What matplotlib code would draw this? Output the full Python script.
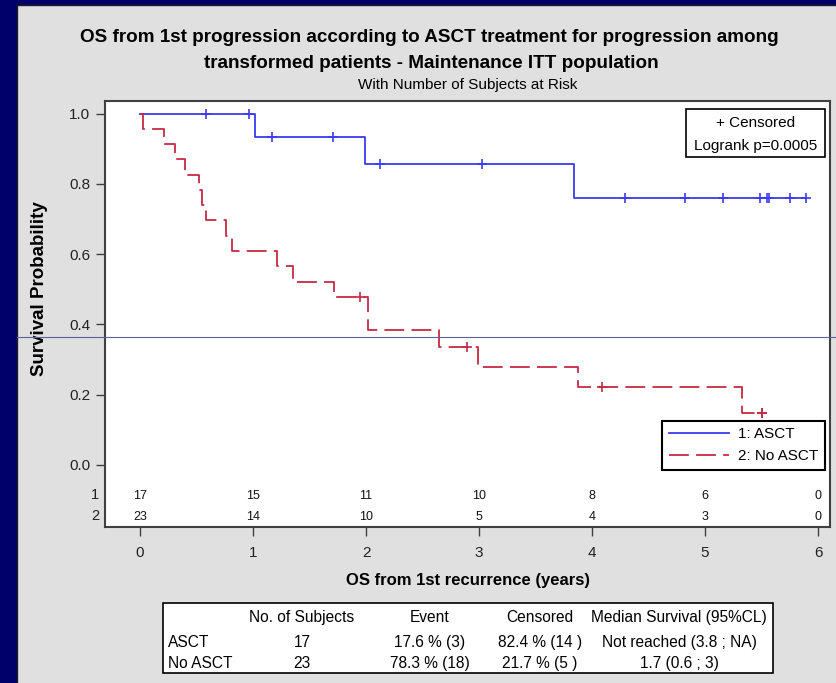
import matplotlib
matplotlib.use("Agg")
import matplotlib.pyplot as plt
import matplotlib.transforms as mtransforms
from matplotlib.patches import Rectangle
from matplotlib.lines import Line2D
import numpy as np

plt.rcParams['font.family'] = ['Liberation Sans', 'DejaVu Sans']

# Kaplan-Meier steps (time in years, survival after the step)
asct_times = [0.0, 1.02, 1.99, 3.84]
asct_surv = [1.0, 0.933, 0.856, 0.761]
asct_cens = [0.58, 0.96, 1.17, 1.71, 2.12, 3.03, 4.29, 4.82, 5.16, 5.49, 5.55, 5.57, 5.75, 5.89]

noasct_times = [0.0, 0.03, 0.21, 0.31, 0.40, 0.52, 0.55, 0.58, 0.76, 0.81,
                1.21, 1.35, 1.72, 2.02, 2.65, 2.99, 3.88, 5.33]
noasct_surv = [1.0, 0.957, 0.913, 0.870, 0.826, 0.783, 0.739, 0.696, 0.652, 0.609,
               0.565, 0.522, 0.478, 0.383, 0.335, 0.279, 0.223, 0.149]
noasct_cens = [1.95, 2.89, 4.09, 5.50, 5.50]

# number at risk
risk_times = [0, 1, 2, 3, 4, 5, 6]
asct_risk = [17, 15, 11, 10, 8, 6, 0]
noasct_risk = [23, 14, 10, 5, 4, 3, 0]

# summary table
tab_header = ["No. of Subjects", "Event", "Censored", "Median Survival (95%CL)"]
tab_groups = ["ASCT", "No ASCT"]
tab_rows = [["17", "17.6 % (3)", "82.4 % (14 )", "Not reached (3.8 ; NA)"],
            ["23", "78.3 % (18)", "21.7 % (5 )", "1.7 (0.6 ; 3)"]]

blue = '#3b3bef'
red = '#c62a44'
W, H = 836, 683


def fx(x):
    return x / W


def fy(y):
    return 1 - y / H


def surv_at(times, surv, t):
    i = np.searchsorted(times, t, side='right') - 1
    return surv[i]


fig = plt.figure(figsize=(W / 100, H / 100), dpi=100, facecolor='#00006a')
# grey slide area with a dark edge on the left and top
fig.patches.append(Rectangle((fx(17), 0), 1 - fx(17) + 0.01, fy(5), transform=fig.transFigure,
                             facecolor='#e0e0e0', edgecolor='none', zorder=-10))
fig.lines.append(Line2D([fx(17), fx(17), 1], [0, fy(5), fy(5)], transform=fig.transFigure,
                        color='#202020', lw=1, zorder=-9))

ax = fig.add_axes([fx(105), fy(527), fx(830) - fx(105), fy(101) - fy(527)])
ax.set_xlim(-0.31, 6.106)
ax.set_ylim(-0.1764, 1.0356)

# curves
ax.step(asct_times + [asct_cens[-1]], asct_surv + [asct_surv[-1]], where='post',
        color=blue, lw=1.3)
ax.step(noasct_times + [noasct_cens[-1]], noasct_surv + [noasct_surv[-1]], where='post',
        color=red, lw=1.3, dashes=(11, 4))

# censored marks
ax.plot(asct_cens, [surv_at(asct_times, asct_surv, t) for t in asct_cens], '+',
        color=blue, ms=7, mew=1.2)
ax.plot(noasct_cens, [surv_at(noasct_times, noasct_surv, t) for t in noasct_cens], '+',
        color=red, ms=7, mew=1.2)

# numbers at risk
y1 = (465 - 499) / 351.5
y2 = (465 - 520) / 351.5
for t, a, b in zip(risk_times, asct_risk, noasct_risk):
    ax.text(t, y1, str(a), ha='center', va='baseline', fontsize=9, color='#111111')
    ax.text(t, y2, str(b), ha='center', va='baseline', fontsize=9, color='#111111')
trans = mtransforms.blended_transform_factory(fig.transFigure, ax.transData)
ax.text(fx(99), y1, "1", transform=trans, ha='right', va='baseline', fontsize=10.5, color='#222222')
ax.text(fx(99), y2, "2", transform=trans, ha='right', va='baseline', fontsize=10.5, color='#222222')

# axes styling
ax.set_yticks([0, 0.2, 0.4, 0.6, 0.8, 1.0])
ax.set_yticklabels(["0.0", "0.2", "0.4", "0.6", "0.8", "1.0"])
ax.set_xticks(risk_times)
ax.tick_params(axis='y', direction='out', length=6.5, width=1, color='#404040',
               labelsize=11, labelcolor='#222222', pad=4)
ax.tick_params(axis='x', direction='out', length=6.5, width=1, color='#404040',
               labelsize=11, labelcolor='#222222', pad=7)
for s in ax.spines.values():
    s.set_color('#404040')
    s.set_linewidth(1.5)

fig.text(fx(40), fy(289), "Survival Probability", rotation=90, ha='center', va='center',
         fontsize=13.5, fontweight='bold')
fig.text(fx(468), fy(580), "OS from 1st recurrence (years)", ha='center', va='center',
         fontsize=12, fontweight='bold')

# titles
fig.text(fx(429), fy(42), "OS from 1st progression according to ASCT treatment for progression among",
         ha='center', va='baseline', fontsize=13.6, fontweight='bold')
fig.text(fx(431), fy(68), "transformed patients - Maintenance ITT population",
         ha='center', va='baseline', fontsize=13.6, fontweight='bold')
fig.text(fx(468), fy(89), "With Number of Subjects at Risk", ha='center', va='baseline',
         fontsize=11)

# censored / logrank box
ax.add_patch(Rectangle((fx(686), fy(157)), fx(825) - fx(686), fy(109) - fy(157),
                       transform=fig.transFigure, facecolor='white', edgecolor='black',
                       lw=1.2, zorder=5))
fig.text(fx(755.5), fy(127), "+ Censored", ha='center', va='baseline', fontsize=11, zorder=6)
fig.text(fx(755.5), fy(150), "Logrank p=0.0005", ha='center', va='baseline', fontsize=11, zorder=6)

# legend
handles = [Line2D([], [], color=blue, lw=1.3),
           Line2D([], [], color=red, lw=1.3, dashes=(11, 4))]
leg = ax.legend(handles, ["1: ASCT", "2: No ASCT"], loc='lower right',
                bbox_to_anchor=(fx(825), fy(470)), bbox_transform=fig.transFigure,
                borderaxespad=0, fancybox=False, framealpha=1, edgecolor='black',
                fontsize=11, handlelength=3.9, handletextpad=0.6, borderpad=0.45,
                labelspacing=0.5)
leg.get_frame().set_linewidth(1.5)

# horizontal line across the slide
fig.lines.append(Line2D([fx(17), 1], [fy(337), fy(337)], transform=fig.transFigure,
                        color='#60609c', lw=0.8, zorder=10))

# summary table
fig.patches.append(Rectangle((fx(163), fy(673)), fx(773) - fx(163), fy(603) - fy(673),
                             transform=fig.transFigure, facecolor='white', edgecolor='black',
                             lw=1.2, zorder=1))
col_x = [302, 430, 540, 679]
for cx, h in zip(col_x, tab_header):
    fig.text(fx(cx), fy(622), h, ha='center', va='baseline', fontsize=11.2, zorder=2)
for ry, g, row in zip([647, 668], tab_groups, tab_rows):
    fig.text(fx(168), fy(ry), g, ha='left', va='baseline', fontsize=11.2, zorder=2)
    for cx, v in zip(col_x, row):
        fig.text(fx(cx), fy(ry), v, ha='center', va='baseline', fontsize=11.2, zorder=2)

fig.savefig("out.png", dpi=100, facecolor=fig.get_facecolor())
